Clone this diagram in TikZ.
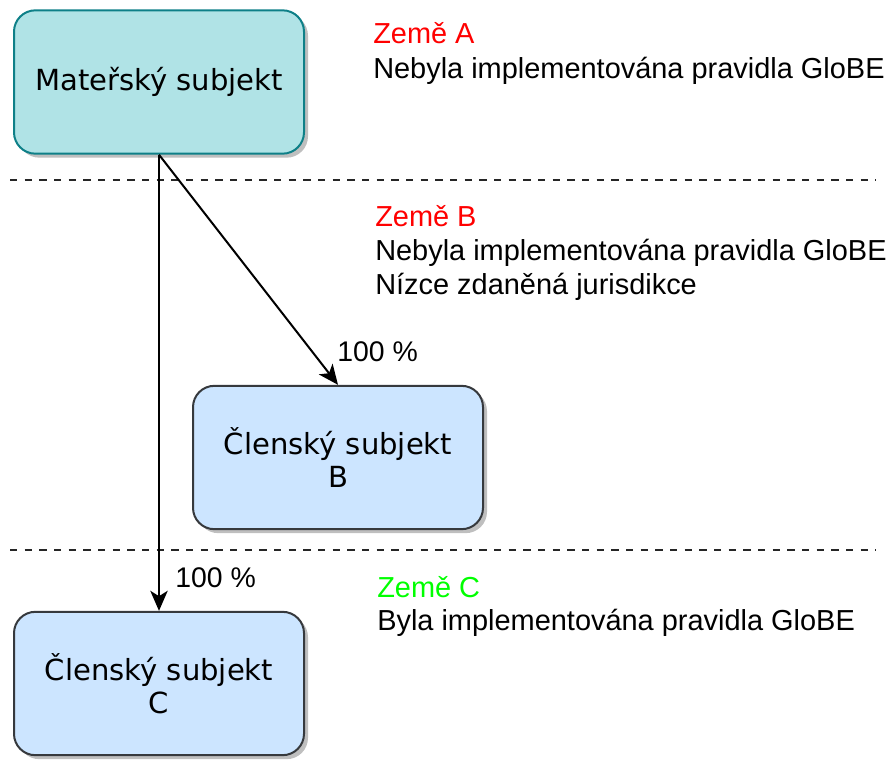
\documentclass[tikz,border=0pt]{standalone}
\usepackage{fontspec}
\setmainfont{Liberation Sans}
\newfontfamily\boxfont{DejaVu Sans}
\usetikzlibrary{arrows.meta,shadows}
\definecolor{parentfill}{HTML}{B0E3E6}
\definecolor{parentline}{HTML}{0E8088}
\definecolor{memberfill}{HTML}{CCE5FF}
\definecolor{memberline}{HTML}{36393D}
\definecolor{zemered}{HTML}{FF0000}
\definecolor{zemegreen}{HTML}{00FF00}
\tikzset{
  entity/.style={draw, line width=1.5pt, rounded corners=16pt,
    minimum width=217.5pt, minimum height=107.5pt, align=center,
    font=\boxfont\fontsize{21.8}{25}\selectfont,
    drop shadow={shadow xshift=3pt, shadow yshift=-3pt, fill=black, opacity=0.25}},
  parent/.style={entity, fill=parentfill, draw=parentline},
  member/.style={entity, fill=memberfill, draw=memberline},
  note/.style={anchor=base west, inner sep=0pt, font=\fontsize{21.7}{25}\selectfont},
  share/.style={-{Stealth[length=15pt,width=13pt,inset=4pt]}, line width=1.5pt},
  pct/.style={anchor=west, inner sep=0pt, font=\fontsize{21.3}{25}\selectfont},
  border/.style={dashed, dash pattern=on 5.5pt off 5.5pt, line width=1.1pt, black!85}
}
\begin{document}
\begin{tikzpicture}[x=0.75pt, y=-0.75pt]
  \useasboundingbox (0,0) rectangle (889,760);

  % country borders
  \coordinate (bAl) at (10,180);  \coordinate (bAr) at (876,180);
  \coordinate (bBl) at (10,550);  \coordinate (bBr) at (876,550);
  \draw[border] (bAl) -- (bAr);
  \draw[border] (bBl) -- (bBr);

  % entities
  \node[parent] (mat) at (159,82) {Mateřský subjekt};
  \node[member] (clB) at (338,457.5) {Členský subjekt\\B};
  \node[member] (clC) at (159,683.5) {Členský subjekt\\C};

  % ownership links
  \draw[share] (mat.south) -- (clB.north);
  \draw[share] (mat.south) -- (clC.north);
  \node[pct] (pB) at (337,352) {100 \%};
  \node[pct] (pC) at (175,578) {100 \%};

  % country descriptions
  \node[note, text=zemered] (zA) at (373,43) {Země A};
  \node[note] (zA1) at (373,78) {Nebyla implementována pravidla GloBE};
  \node[note, text=zemered] (zB) at (375,226.5) {Země B};
  \node[note] (zB1) at (375,260) {Nebyla implementována pravidla GloBE};
  \node[note] (zB2) at (375,294) {Nízce zdaněná jurisdikce};
  \node[note, text=zemegreen] (zC) at (377,597) {Země C};
  \node[note] (zC1) at (377,630) {Byla implementována pravidla GloBE};
\end{tikzpicture}
\end{document}
